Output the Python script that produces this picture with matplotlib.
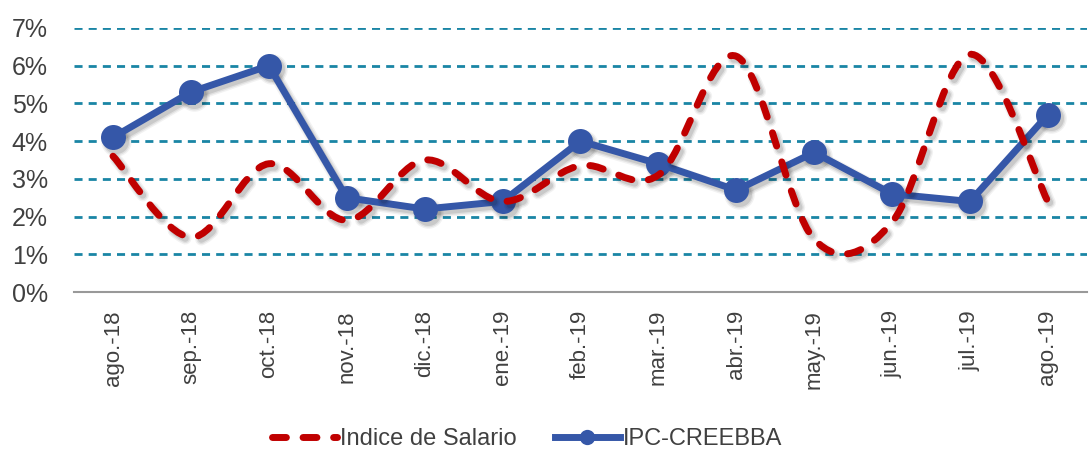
import numpy as np
import matplotlib
matplotlib.use("Agg")
import matplotlib.pyplot as plt
from matplotlib.path import Path
from matplotlib.patches import PathPatch
from matplotlib.lines import Line2D
import matplotlib.transforms as mtransforms

# -----------------------------
# data (percent)
# -----------------------------
months = ["ago.-18", "sep.-18", "oct.-18", "nov.-18", "dic.-18", "ene.-19",
          "feb.-19", "mar.-19", "abr.-19", "may.-19", "jun.-19", "jul.-19", "ago.-19"]
salario = [3.6, 1.45, 3.4, 1.9, 3.5, 2.4, 3.35, 3.1, 6.25, 1.4, 1.85, 6.3, 2.4]
ipc = [4.1, 5.3, 6.0, 2.5, 2.2, 2.4, 4.0, 3.4, 2.7, 3.7, 2.6, 2.4, 4.7]

RED = "#C00000"
BLUE = "#3557A8"
GRID = "#1A85A5"
TXT = "#404040"

plt.rcParams["font.family"] = ["Liberation Sans Narrow", "Liberation Sans", "DejaVu Sans"]

fig = plt.figure(figsize=(10.89, 4.58), dpi=100)
ax = fig.add_axes([0.068, 0.3624, 0.93, 0.5766])

x = np.arange(len(months))


def smooth_path(xs, ys):
    # bezier segments like a spreadsheet "smoothed line"
    pts = np.column_stack([xs, ys]).astype(float)
    n = len(pts)
    verts = [pts[0]]
    codes = [Path.MOVETO]
    for i in range(n - 1):
        p0 = pts[max(i - 1, 0)]
        p1 = pts[i]
        p2 = pts[i + 1]
        p3 = pts[min(i + 2, n - 1)]
        c1 = p1 + (p2 - p0) / 6.0
        c2 = p2 - (p3 - p1) / 6.0
        verts += [c1, c2, p2]
        codes += [Path.CURVE4] * 3
    return Path(verts, codes)


shadow = mtransforms.offset_copy(ax.transData, fig=fig, x=3, y=-3.5, units="dots")
# soft shadow: a few wide faint layers
blur = [(4, 0.05), (2, 0.07), (0, 0.10)]

# grid
for v in range(1, 8):
    ax.axhline(v, color=GRID, lw=2.0, ls=(0, (2.9, 2.2)), zorder=1)

# IPC line (with shadow)
for extra, a in blur:
    ax.plot(x, ipc, color="black", alpha=a, lw=5 + extra, marker="o", ms=18 + extra,
            mew=0, transform=shadow, zorder=2)
ax.plot(x, ipc, color=BLUE, lw=5, marker="o", ms=18, mew=0, zorder=3)

# salary line, smoothed + dashed
sp = smooth_path(x, salario)
for extra, a in blur:
    ax.add_patch(PathPatch(sp, fill=False, ec="black", alpha=a, lw=5 + extra,
                           ls=(0, (2.0 * 5 / (5 + extra), 2.4 * 5 / (5 + extra))),
                           capstyle="round", transform=shadow, zorder=4))
ax.add_patch(PathPatch(sp, fill=False, ec=RED, lw=5,
                       ls=(0, (2.0, 2.4)), capstyle="round", zorder=5))

ax.set_xlim(-0.5, len(months) - 0.5)
ax.set_ylim(0, 7)
ax.set_yticks(range(0, 8))
ax.set_yticklabels([f"{v}%" for v in range(0, 8)], fontsize=18, color=TXT)
ax.set_xticks(x)
ax.set_xticklabels(months, rotation=90, fontsize=16, color=TXT)
ax.tick_params(axis="both", length=0)
ax.tick_params(axis="x", pad=13)
ax.tick_params(axis="y", pad=19)
for s in ["top", "right", "left"]:
    ax.spines[s].set_visible(False)
ax.spines["bottom"].set_color("#999999")
ax.spines["bottom"].set_linewidth(1.5)

handles = [
    Line2D([], [], color=RED, lw=5, ls=(0, (2.0, 2.4)), dash_capstyle="round"),
    Line2D([], [], color=BLUE, lw=5, marker="o", ms=11, mew=0),
]
fig.legend(handles, ["Indice de Salario", "IPC-CREEBBA"], loc="lower center",
           bbox_to_anchor=(0.484, -0.03), ncol=2, frameon=False, fontsize=17,
           handlelength=2.75, handletextpad=0.15, columnspacing=1.6,
           labelcolor=TXT)

fig.savefig("out.png", dpi=100)
